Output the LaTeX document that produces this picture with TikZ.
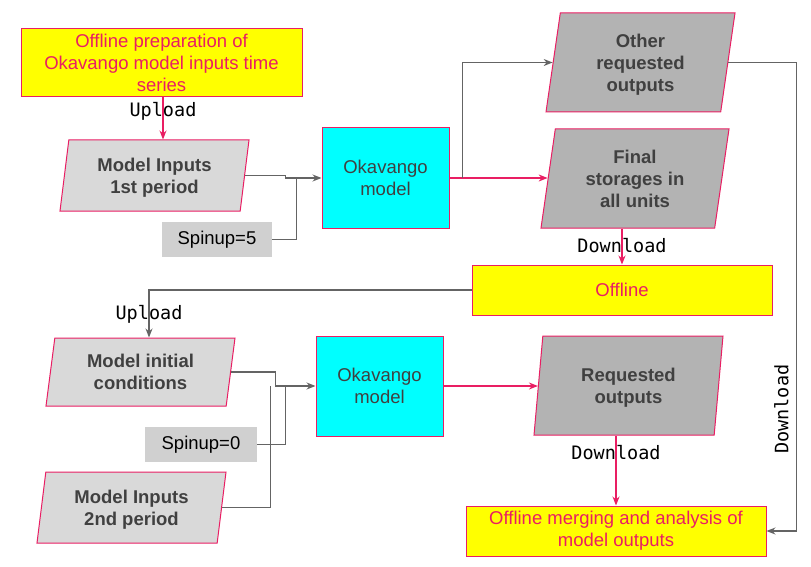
\documentclass[tikz,border=0pt]{standalone}
\usepackage{fontspec}
\setmainfont{Liberation Sans}
\newfontfamily\codefont{DejaVu Sans Mono}
\usetikzlibrary{shapes.geometric,arrows.meta}
\definecolor{flowpink}{RGB}{233,30,99}
\definecolor{flowgray}{RGB}{100,100,100}
\definecolor{darktext}{RGB}{64,64,64}
\definecolor{lightpara}{RGB}{217,217,217}
\definecolor{darkpara}{RGB}{179,179,179}
\definecolor{spinfill}{RGB}{208,208,208}
\definecolor{offyellow}{RGB}{255,255,0}
\definecolor{modelcyan}{RGB}{0,255,255}
\begin{document}
\begin{tikzpicture}[x=1pt,y=-1pt,
    every node/.style={font=\fontsize{18.5}{22}\selectfont, align=center, inner sep=0pt},
    offbox/.style={rectangle, draw=flowpink, fill=offyellow, text=flowpink, line width=1pt},
    modelbox/.style={rectangle, draw=flowpink, fill=modelcyan, text=darktext, line width=1pt,
        minimum width=127pt, minimum height=100pt, text depth=0pt},
    databox/.style={trapezium, trapezium left angle=76, trapezium right angle=104,
        trapezium stretches body, draw=flowpink, line width=1pt, text=darktext, text depth=0pt,
        font=\bfseries\fontsize{18.5}{22}\selectfont},
    spinbox/.style={rectangle, fill=spinfill, text=black, minimum height=35pt},
    codelabel/.style={font=\codefont\fontsize{18.5}{22}\selectfont, text=black},
    pinkarrow/.style={draw=flowpink, line width=1.2pt, -{Stealth[length=9pt,width=7pt]}},
    grayarrow/.style={draw=flowgray, line width=1.2pt, -{Stealth[length=9pt,width=7pt]}},
    grayline/.style={draw=flowgray, line width=1.2pt}]
    \useasboundingbox (0,0) rectangle (811,567);

    \node[offbox, minimum width=281pt, minimum height=68pt] (prep) at (161.5,63)
        {Offline preparation of\\Okavango model inputs time\\series};
    \node[databox, fill=lightpara, minimum width=189pt, minimum height=71pt] (in1) at (154.5,175.5)
        {Model Inputs\\1st period};
    \node[spinbox, minimum width=110pt] (spin1) at (217,239.5) {Spinup=5};
    \node[modelbox] (model1) at (385.5,178) {Okavango\\model};
    \node[databox, fill=darkpara, minimum width=189pt, minimum height=99pt] (other) at (640.5,62.5)
        {Other\\requested\\outputs};
    \node[databox, fill=darkpara, minimum width=188pt, minimum height=99pt] (fin) at (635,178.5)
        {Final\\storages in\\all units};
    \node[offbox, minimum width=300pt, minimum height=50pt] (offline) at (622,290) {Offline};
    \node[databox, fill=lightpara, minimum width=189pt, minimum height=68pt] (mi) at (140.5,372)
        {Model initial\\conditions};
    \node[spinbox, minimum width=112pt] (spin0) at (201,444.5) {Spinup=0};
    \node[databox, fill=lightpara, minimum width=189pt, minimum height=71pt] (in2) at (131.5,507.5)
        {Model Inputs\\2nd period};
    \node[modelbox] (model2) at (379.5,386) {Okavango\\model};
    \node[databox, fill=darkpara, minimum width=189pt, minimum height=99pt] (req) at (628.5,385.5)
        {Requested\\outputs};
    \node[offbox, minimum width=300pt, minimum height=50pt] (merge) at (616,531)
        {Offline merging and analysis of\\model outputs};

    % first period
    \draw[pinkarrow] ([xshift=1.5pt]prep.south) -- ([xshift=1.5pt]prep.south |- in1.north)
        node[codelabel, pos=0.33] {Upload};
    \draw[grayarrow] (in1.east) -| ([xshift=-36pt]model1.west) -- (model1.west);
    \draw[grayline] (spin1.east) -| ([xshift=-25pt]model1.west);
    \draw[pinkarrow] (model1.east) -- (model1.east -| fin.west);
    \draw[grayarrow] ([xshift=13pt]model1.east) |- (other.west);
    \draw[grayarrow] (other.east) -- ++(68,0) coordinate (turn) -- (turn |- merge.east)
        node[codelabel, pos=0.74, rotate=90, anchor=south, yshift=7pt] {Download} -- (merge.east);
    \draw[pinkarrow] (fin.south -| offline.north) -- (offline.north)
        node[codelabel, pos=0.46] {Download};

    % second period
    \draw[grayarrow] (offline.west) -| ([xshift=8.5pt]mi.north)
        node[codelabel, pos=0.76] {Upload};
    \draw[grayarrow] (mi.east) -| ([xshift=-40pt]model2.west) -- (model2.west);
    \draw[grayline] (spin0.east) -| ([xshift=-30pt]model2.west);
    \draw[grayline] (in2.east) -| ([xshift=-45pt]model2.west);
    \draw[pinkarrow] (model2.east) -- (model2.east -| req.west);
    \draw[pinkarrow] (req.south -| merge.north) -- (merge.north)
        node[codelabel, pos=0.25] {Download};
\end{tikzpicture}
\end{document}
